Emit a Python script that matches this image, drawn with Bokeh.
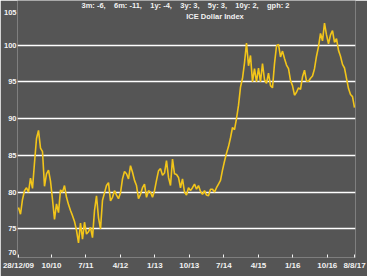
import numpy as np
from bokeh.plotting import figure
from bokeh.models import Range1d, FixedTicker, Label
from bokeh.embed import file_html
from bokeh.resources import INLINE

index_values = [
    77.9, 77.0, 79.0, 80.2, 80.6, 80.0, 81.9, 80.5, 84.0, 87.3,
    88.4, 86.0, 85.5, 80.8, 82.5, 83.0, 81.5, 79.0, 76.3, 78.4,
    77.2, 80.3, 80.0, 80.9, 79.3, 78.3, 77.5, 76.8, 76.0, 74.8,
    73.1, 75.8, 73.6, 75.9, 74.3, 74.6, 75.2, 73.8, 77.5, 79.5,
    76.5, 75.0, 78.9, 79.9, 80.9, 81.3, 78.8, 79.3, 80.2, 79.6,
    79.1, 79.9, 81.8, 82.8, 82.5, 81.8, 83.6, 82.7, 81.6, 80.9,
    79.1, 79.7, 80.6, 81.1, 79.3, 80.2, 80.0, 79.3, 80.2, 81.6,
    82.9, 83.2, 82.3, 82.6, 84.3, 82.0, 80.9, 84.5, 82.5, 82.4,
    82.0, 80.6, 81.8, 80.0, 79.6, 80.6, 80.2, 80.6, 81.1, 80.4,
    80.9, 80.1, 79.7, 80.2, 79.6, 79.5, 80.4, 80.4, 80.0, 80.6,
    81.1, 81.6, 83.0, 84.2, 85.3, 86.2, 87.4, 88.8, 88.5, 90.0,
    91.8, 94.3, 95.5, 97.6, 100.3, 97.2, 98.6, 95.0, 96.8, 95.0,
    96.9, 95.0, 97.5, 95.3, 94.8, 96.2, 94.5, 94.2, 97.5, 99.9,
    100.1, 98.4, 99.2, 98.2, 97.3, 96.8, 95.2, 94.5, 93.2, 93.6,
    94.2, 94.0, 95.7, 96.6, 95.1, 95.1, 95.5, 95.8, 96.8, 98.5,
    99.8, 101.6, 100.6, 103.0, 101.4, 100.2, 101.4, 102.0, 100.4, 100.9,
    99.3, 98.5, 97.4, 96.9, 95.5, 94.1, 93.3, 93.0, 91.5,
]
observation = list(range(len(index_values)))

x_tick_positions = [0, 16.5, 33.7, 51.0, 68.2, 85.4, 102.7, 120.0, 137.1, 154.4, 168]
x_tick_labels = ["28/12/09", "10/10", "7/11", "4/12", "1/13", "10/13",
                 "7/14", "4/15", "1/16", "10/16", "8/8/17"]
y_grid_values = [75, 80, 85, 90, 95, 100]
y_tick_positions = [71.8, 75, 80, 85, 90, 95, 100, 104.4]
y_tick_labels = ["70", "75", "80", "85", "90", "95", "100", "105"]

title_text = "ICE Dollar Index"
stats_items = ["3m: -6,", "6m: -11,", "1y: -4,", "3y: 3,", "5y: 3,", "10y: 2,", "gph: 2"]

BG = "#555555"
LINE = "#F2C51A"
TXT = "#F2F2F2"

p = figure(width=367, height=276, output_backend="svg", toolbar_location=None,
           x_range=Range1d(-0.5, len(index_values) - 0.5), y_range=Range1d(71.1, 106.09),
           min_border_left=16, min_border_right=12, min_border_top=0, min_border_bottom=19)
p.background_fill_color = BG
p.border_fill_color = BG
p.outline_line_color = None

p.line(observation, index_values, line_color=LINE, line_width=1.6)

# axes
p.xaxis.ticker = FixedTicker(ticks=x_tick_positions)
p.xaxis.major_label_overrides = {t: l for t, l in zip(x_tick_positions, x_tick_labels)}
p.xaxis.axis_line_color = None
p.xaxis.major_tick_in = 3
p.xaxis.major_tick_out = 0
p.xaxis.major_tick_line_color = TXT
p.xaxis.minor_tick_line_color = None
p.xaxis.major_label_standoff = 3
p.xaxis.major_label_text_font = "Liberation Sans"
p.xaxis.major_label_text_font_style = "bold"
p.xaxis.major_label_text_font_size = "8px"
p.xaxis.major_label_text_color = TXT

p.yaxis.ticker = FixedTicker(ticks=y_tick_positions)
p.yaxis.major_label_overrides = {t: l for t, l in zip(y_tick_positions, y_tick_labels)}
p.yaxis.axis_line_color = None
p.yaxis.major_tick_line_color = None
p.yaxis.minor_tick_line_color = None
p.yaxis.major_tick_in = 0
p.yaxis.major_tick_out = 0
p.yaxis.major_label_standoff = 1
p.yaxis.major_label_text_font = "Liberation Sans"
p.yaxis.major_label_text_font_style = "bold"
p.yaxis.major_label_text_font_size = "7.5px"
p.yaxis.major_label_text_color = TXT

p.xgrid.grid_line_color = None
p.ygrid.ticker = FixedTicker(ticks=y_grid_values)
p.ygrid.grid_line_color = "white"
p.ygrid.grid_line_width = 1.3
p.ygrid.grid_line_alpha = 1.0

sep = "\u00a0\u00a0\u00a0\u00a0"
stats_text = sep.join(stats_items)

p.add_layout(Label(x=168, y=252, x_units="screen", y_units="screen", text=stats_text,
                   text_align="center", text_baseline="middle", text_color=TXT,
                   text_font="Liberation Sans", text_font_style="bold", text_font_size="7.5px"))
p.add_layout(Label(x=197.5, y=241, x_units="screen", y_units="screen", text=title_text,
                   text_align="center", text_baseline="middle", text_color=TXT,
                   text_font="Liberation Sans", text_font_style="bold", text_font_size="7.5px"))

open("out.html", "w").write(file_html(p, INLINE))
